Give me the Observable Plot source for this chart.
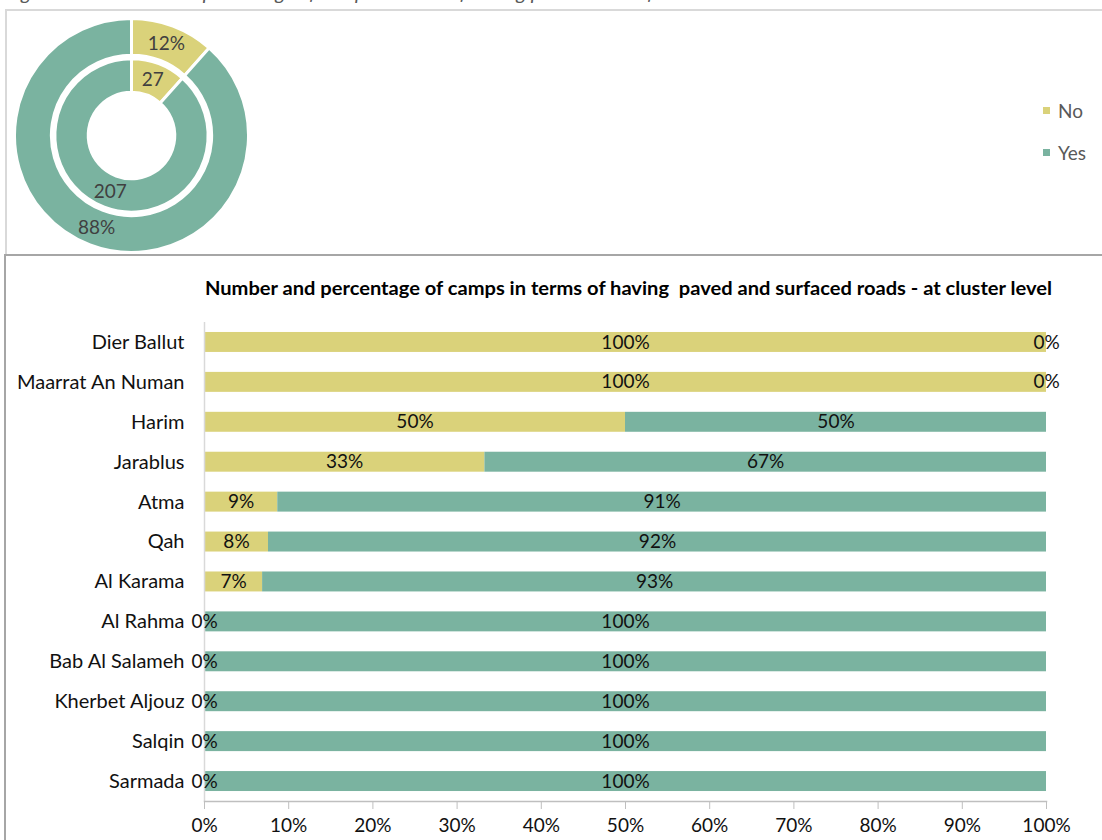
<!DOCTYPE html>
<html>
<head>
<meta charset="utf-8">
<script src="https://cdn.jsdelivr.net/npm/d3@7"></script>
<script src="https://cdn.jsdelivr.net/npm/@observablehq/plot@0.6"></script>
<style>
  html, body { margin: 0; padding: 0; background: #fff; }
  #page { position: relative; width: 1102px; height: 840px; overflow: hidden; background: #fff; font-family: Lato, sans-serif; }
  .abs { position: absolute; }
  #cutTitle { left: 6px; top: -20px; font-style: italic; font-size: 20px; color: #595959; white-space: nowrap; transform-origin: 0 0; }
  #topBox { left: 5px; top: 9px; width: 1097px; height: 245px; border-top: 2px solid #d9d9d9; border-left: 2px solid #d9d9d9; box-sizing: border-box; }
  #botBox { left: 4px; top: 254px; width: 1098px; height: 586px; border-top: 2px solid #a6a6a6; border-left: 2px solid #a6a6a6; box-sizing: border-box; }
  #barTitle { top: 276px; font-weight: bold; font-size: 19px; color: #000; white-space: nowrap; transform-origin: 0 0; }
  .leg { font-size: 19px; color: #595959; display: flex; align-items: center; }
  .leg span.sw { display: inline-block; width: 7px; height: 7px; margin-right: 8px; }
</style>
</head>
<body>
<div id="page">
  <div id="cutTitle" class="abs">Figure 11: Number and percentage of camps in terms of having paved and surfaced roads</div>
  <div id="topBox" class="abs"></div>
  <div id="botBox" class="abs"></div>
  <div id="donut" class="abs" style="left:0;top:0;"></div>
  <div id="legend" class="abs" style="left:1043px;top:97px;"></div>
  <div id="barTitle" class="abs">Number and percentage of camps in terms of having&nbsp; paved and surfaced roads - at cluster level</div>
  <div id="bars" class="abs" style="left:0;top:305px;"></div>
</div>
<script>
// ---------- data ----------
const answers = ["No", "Yes"];
const answerColors = ["#dad27a", "#7ab3a0"];
const totalCounts = [27, 207];

const clusters = ["Dier Ballut", "Maarrat An Numan", "Harim", "Jarablus", "Atma", "Qah", "Al Karama",
  "Al Rahma", "Bab Al Salameh", "Kherbet Aljouz", "Salqin", "Sarmada"];
const noPct  = [100, 100, 50, 33.3, 8.7, 7.6, 6.9, 0, 0, 0, 0, 0];
const yesPct = [0, 0, 50, 66.7, 91.3, 92.4, 93.1, 100, 100, 100, 100, 100];
const xTicks = [0, 10, 20, 30, 40, 50, 60, 70, 80, 90, 100];

const colorOf = new Map(answers.map((a, i) => [a, answerColors[i]]));

// ---------- donut ----------
const donutData = answers.map((a, i) => ({answer: a, count: totalCounts[i]}));
const total = d3.sum(totalCounts);
const rings = [
  {r0: 0.685, r1: 1.0, label: d => Math.round(d.data.count / total * 100) + "%"},
  {r0: 0.37, r1: 0.655, label: d => String(d.data.count)}
];

function donutMark(index, scales, values, dimensions, context) {
  const cx = scales.x(0), cy = scales.y(0);
  const unit = scales.x(1) - scales.x(0);
  const g = d3.create("svg:g").attr("transform", `translate(${cx},${cy})`);
  const arcs = d3.pie().sort(null).value(d => d.count)(donutData);
  for (const ring of rings) {
    const arc = d3.arc().innerRadius(ring.r0 * unit).outerRadius(ring.r1 * unit);
    g.append("g").selectAll("path").data(arcs).join("path")
      .attr("d", arc)
      .attr("fill", d => colorOf.get(d.data.answer))
      .attr("stroke", "#fff").attr("stroke-width", 3).attr("stroke-linejoin", "round");
    g.append("g").selectAll("text").data(arcs).join("text")
      .attr("transform", d => `translate(${arc.centroid(d)})`)
      .attr("text-anchor", "middle").attr("dy", "0.35em")
      .attr("fill", "#404040").attr("font-size", 19)
      .text(ring.label);
  }
  return g.node();
}

const donutPlot = Plot.plot({
  width: 265, height: 255,
  marginLeft: 14.5, marginRight: 16.5, marginTop: 18.5, marginBottom: 2.5,
  x: {domain: [-1, 1], axis: null},
  y: {domain: [-1, 1], axis: null},
  style: {fontFamily: "Lato, sans-serif", background: "transparent"},
  marks: [
    Plot.dot([[-1, -1], [1, 1]], {x: d => d[0], y: d => d[1], r: 0, fill: "none", stroke: "none"}),
    donutMark
  ]
});
document.getElementById("donut").appendChild(donutPlot);

// ---------- legend ----------
const legend = document.getElementById("legend");
answers.forEach((a, i) => {
  const row = document.createElement("div");
  row.className = "leg";
  row.style.height = "26px";
  row.style.marginBottom = i === 0 ? "16px" : "0";
  row.innerHTML = `<span class="sw" style="background:${answerColors[i]}"></span>${a}`;
  legend.appendChild(row);
});

// ---------- bar chart ----------
const rows = clusters.flatMap((c, i) => [
  {cluster: c, answer: "No", value: noPct[i]},
  {cluster: c, answer: "Yes", value: yesPct[i]}
]);

const barPlot = Plot.plot({
  width: 1102, height: 535,
  marginLeft: 204, marginRight: 56, marginTop: 17, marginBottom: 39,
  style: {fontFamily: "Lato, sans-serif", fontSize: "19px", color: "#111", background: "transparent"},
  x: {domain: [0, 100]},
  y: {domain: clusters, paddingInner: 0.5, paddingOuter: 0.25, round: false},
  color: {domain: answers, range: answerColors},
  marks: [
    Plot.barX(rows, Plot.stackX({x: "value", y: "cluster", fill: "answer", z: "answer", order: answers})),
    Plot.ruleX([0], {stroke: "#d9d9d9", strokeWidth: 1.5}),
    Plot.frame({anchor: "bottom", stroke: "#bfbfbf", strokeWidth: 1.5}),
    Plot.text(rows, Plot.stackX({x: "value", y: "cluster", z: "answer", order: answers,
      text: d => Math.round(d.value) + "%", fill: "#111", fontSize: 19})),
    Plot.axisX({ticks: xTicks, tickFormat: d => d + "%", tickSize: 8, tickPadding: 9, stroke: "#bfbfbf", label: null, fontSize: 19}),
    Plot.axisY({tickSize: 0, tickPadding: 20, label: null, fontSize: 20})
  ]
});
document.getElementById("bars").appendChild(barPlot);

// ---------- fit title widths ----------
function fit(el, left, width) {
  const w = el.getBoundingClientRect().width;
  el.style.left = left + "px";
  el.style.transform = `scaleX(${width / w})`;
}
fit(document.getElementById("barTitle"), 205, 847);
</script>
</body>
</html>
